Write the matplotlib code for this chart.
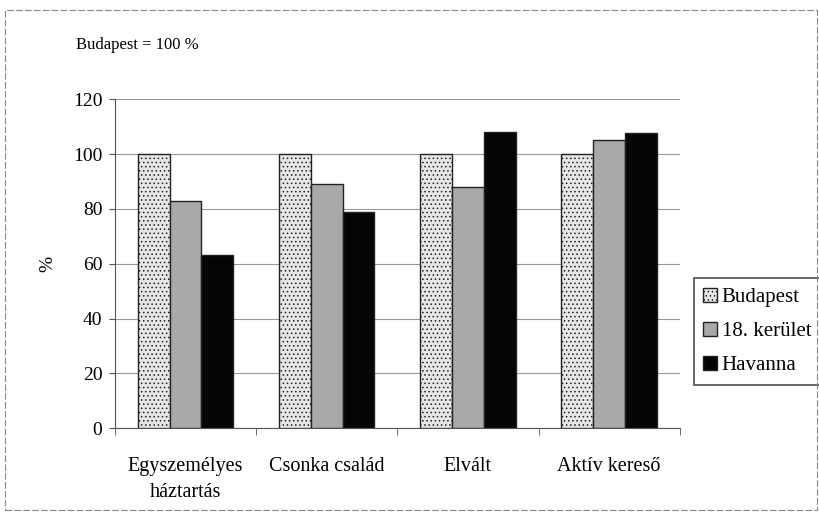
import numpy as np
import matplotlib
matplotlib.use("Agg")
import matplotlib.pyplot as plt
from matplotlib.patches import Rectangle

plt.rcParams['font.family'] = ['Liberation Serif', 'DejaVu Serif']
plt.rcParams['hatch.linewidth'] = 0.6

# data
categories = ["Egyszemélyes\nháztartás", "Csonka család", "Elvált", "Aktív kereső"]
series = ["Budapest", "18. kerület", "Havanna"]
budapest = [100, 100, 100, 100]
kerulet18 = [83, 89, 88, 105]
havanna = [63, 79, 108, 107.5]
yticks = [0, 20, 40, 60, 80, 100, 120]

colors = ["#e6e6e6", "#a9a9a9", "#050505"]
hatches = ["....", "", ""]

fig = plt.figure(figsize=(8.2, 5.14), dpi=100)
ax = fig.add_axes([0.140, 0.167, 0.689, 0.640])

x = np.arange(len(categories))
w = 0.225
for i, (vals, name) in enumerate(zip([budapest, kerulet18, havanna], series)):
    ax.bar(x + (i - 1) * w, vals, width=w, color=colors[i], hatch=hatches[i],
           edgecolor="#222222", linewidth=1.0, label=name, zorder=3)

ax.set_xlim(-0.5, len(categories) - 0.5)
ax.set_ylim(0, 120)
ax.set_yticks(yticks)
ax.set_yticklabels([str(t) for t in yticks], fontsize=14)
ax.yaxis.grid(True, color="#999999", linewidth=0.8, zorder=0)
ax.set_xticks(x)
ax.set_xticklabels(categories, fontsize=14.5, linespacing=1.5)
ax.tick_params(axis="x", length=0, pad=21)
ax.set_xticks(np.arange(len(categories) + 1) - 0.5, minor=True)
ax.tick_params(axis="x", which="minor", length=5, direction="out", color="#555555")
ax.tick_params(axis="y", length=4, direction="out", color="#555555", pad=5)

for s in ["top", "right"]:
    ax.spines[s].set_visible(False)
ax.spines["left"].set_color("#555555")
ax.spines["bottom"].set_color("#555555")
ax.spines["left"].set_linewidth(0.8)
ax.spines["bottom"].set_linewidth(0.8)

ax.set_ylabel("%", fontsize=14, labelpad=12)

fig.text(0.093, 0.912, "Budapest = 100 %", fontsize=12, va="center")

leg = ax.legend(loc="center left", bbox_to_anchor=(0.846, 0.355), bbox_transform=fig.transFigure,
                frameon=True, fancybox=False, fontsize=15, handlelength=0.65, handleheight=0.65,
                handletextpad=0.25, labelspacing=0.72, borderpad=0.45, borderaxespad=0)
leg.get_frame().set_edgecolor("#222222")
leg.get_frame().set_linewidth(1.2)

# outer border
fig.patches.append(Rectangle((0.006, 0.008), 0.99, 0.972, transform=fig.transFigure,
                             fill=False, edgecolor="#888888", linewidth=0.8, linestyle=(0, (6, 2))))

fig.savefig("out.png", dpi=100)
